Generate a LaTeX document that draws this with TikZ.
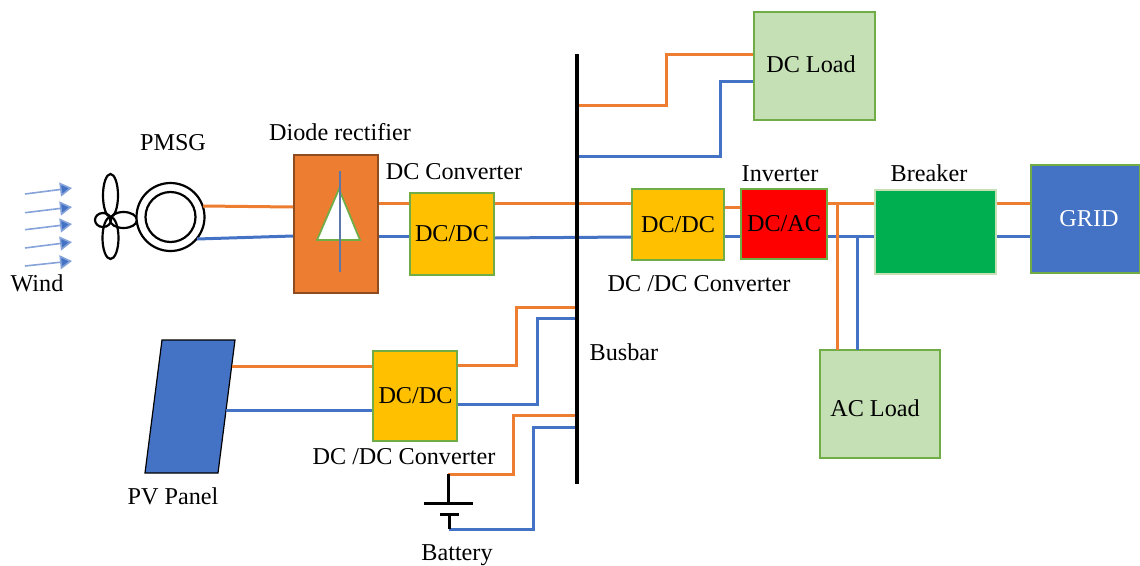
\documentclass[tikz,border=0pt]{standalone}
\usepackage{fontspec}
\setmainfont{Liberation Serif}
\usetikzlibrary{arrows.meta}
\definecolor{or}{HTML}{ED7D31}
\definecolor{bl}{HTML}{4472C4}
\definecolor{gy}{HTML}{70AD47}
\definecolor{lg}{HTML}{C5E0B4}
\definecolor{yl}{HTML}{FFC000}
\definecolor{brkgreen}{HTML}{00B050}
\tikzset{
 x=1pt,y=-1pt,
 lbl/.style={font=\fontsize{24.2}{27}\selectfont,inner sep=0pt,text=black},
 box/.style={draw=#1,line width=1.8pt,inner sep=0pt,font=\fontsize{24.2}{27}\selectfont,text=black},
 oline/.style={draw=or,line width=3pt,line join=miter},
 bline/.style={draw=bl,line width=3pt,line join=miter},
 blk/.style={draw=black,line width=3pt},
 blade/.style={draw=black,line width=2.2pt},
 wind/.style={draw=bl!65,line width=1.6pt,-{Triangle[length=12pt,width=14pt,fill=bl]}},
}
\begin{document}
\begin{tikzpicture}
\useasboundingbox (0,0) rectangle (1140,565);
\coordinate (bt) at (577,54); \coordinate (bb) at (577,484);
\node[box=gy,fill=lg,minimum width=121,minimum height=108] (dcload) at (814.5,66) {};
\node[lbl] at (811,64.5) {DC Load};
\node[box=gy,fill=lg,minimum width=120,minimum height=108] (acload) at (880,404) {};
\node[lbl] at (875,408.5) {AC Load};
\coordinate (o1) at (577,105); \coordinate (b1) at (577,156);
\draw[oline] (o1) -- (666,105) -- (666,54) -- (dcload.west |- 0,54);
\draw[bline] (b1) -- (720,156) -- (720,81) -- (dcload.west |- 0,81);
% turbine and generator
\draw[blade] (110.5,195.5) ellipse [x radius=7.5,y radius=21.5];
\draw[blade] (110.5,238) ellipse [x radius=8,y radius=21];
\draw[blade] (123.5,220) ellipse [x radius=13.5,y radius=8];
\draw[blade] (103,220) ellipse [x radius=8,y radius=7];
\node[circle,draw=black,line width=2.2pt,fill=white,minimum size=68,inner sep=0pt] (gen) at (170.5,217) {};
\node[circle,draw=black,line width=2.2pt,fill=white,minimum size=50,inner sep=0pt] (geni) at (170.5,217) {};
\foreach \a/\b in {194/188,212.7/207,229.7/224,248/242,266/261}
  \draw[wind] (25,\a) -- (72,\b);
% rectifier
\node[box=or!60!black,fill=or,minimum width=84,minimum height=138] (rect) at (336,224) {};
\coordinate (ta) at (339,189); \coordinate (tl) at (317,240); \coordinate (tr) at (360,240);
\draw[draw=gy,line width=1.8pt,fill=white] (ta) -- (tr) -- (tl) -- cycle;
\draw[draw=bl!60!gray,line width=1.1pt] (340,171) -- (340,272);
\node[box=gy,fill=yl,minimum width=84,minimum height=82] (c1) at (452,234) {DC/DC};
\node[box=gy,fill=yl,minimum width=92,minimum height=71] (c2) at (678,224.5) {DC/DC};
\node[box=gy,fill=red,minimum width=86,minimum height=70] (inv) at (784,224) {DC/AC};
\node[box=lg,fill=brkgreen,minimum width=121,minimum height=84] (brk) at (935.5,232) {};
\node[box=gy,fill=bl,minimum width=109,minimum height=108] (grid) at (1085.5,219) {};
\node[lbl] at (1089,218.5) {\textcolor{white}{GRID}};
\node[box=gy,fill=yl,minimum width=84,minimum height=90] (c3) at (415,396) {\hspace{1pt}DC/DC};
\draw[draw=black,line width=1.2pt,fill=bl] (162,340) -- (235,340) -- (218,473) -- (145,473) -- cycle;
% main wires
\draw[oline] (203,206) -- (rect.west |- 0,207);
\draw[bline] (197,239) -- (rect.west |- 0,236);
\draw[oline] (rect.east |- 0,203) -- (c1.west |- 0,203);
\draw[bline] (rect.east |- 0,236) -- (c1.west |- 0,236);
\draw[oline] (c1.east |- 0,203) -- (c2.west |- 0,203);
\draw[bline] (c1.east |- 0,238) -- (c2.west |- 0,237);
\draw[oline] (c2.east |- 0,207) -- (inv.west |- 0,207);
\draw[bline] (c2.east |- 0,236) -- (inv.west |- 0,236);
\draw[oline] (inv.east |- 0,203) -- (brk.west |- 0,203);
\draw[bline] (inv.east |- 0,236) -- (brk.west |- 0,236);
\draw[oline] (brk.east |- 0,203) -- (grid.west |- 0,203);
\draw[bline] (brk.east |- 0,236) -- (grid.west |- 0,236);
\draw[oline] (837,203) -- (837,350);
\draw[bline] (857,236) -- (857,350);
% PV
\draw[oline] (232,366) -- (c3.west |- 0,366);
\draw[bline] (226,410) -- (c3.west |- 0,410);
\draw[oline] (c3.east |- 0,365) -- (516,365) -- (516,307) -- (577,307);
\draw[bline] (c3.east |- 0,404) -- (537,404) -- (537,318) -- (577,318);
% battery
\coordinate (bp) at (448,474); \coordinate (bn) at (449,529);
\draw[oline] (bp) -- (513,474) -- (513,415) -- (577,415);
\draw[bline] (bn) -- (533,529) -- (533,427) -- (577,427);
\draw[blk] (bp) -- (448,503);
\draw[blk] (424,503) -- (473,503);
\draw[blk] (440,514) -- (459,514);
\draw[blk] (449,514) -- (bn);
\draw[draw=black,line width=3.2pt] (bt) -- (bb);
% labels
\node[lbl] at (173,142.5) {PMSG};
\node[lbl] at (340,132.5) {Diode rectifier};
\node[lbl] at (454,171.5) {DC Converter};
\node[lbl] at (780,173.5) {Inverter};
\node[lbl] at (929,173.5) {Breaker};
\node[lbl] at (699,283.5) {DC /DC Converter};
\node[lbl] at (624,352.5) {Busbar};
\node[lbl] at (404,456.5) {DC /DC Converter};
\node[lbl] at (173,496.5) {PV Panel};
\node[lbl] at (457,555) {Battery};
\node[lbl] at (37,283.5) {Wind};
\end{tikzpicture}
\end{document}
